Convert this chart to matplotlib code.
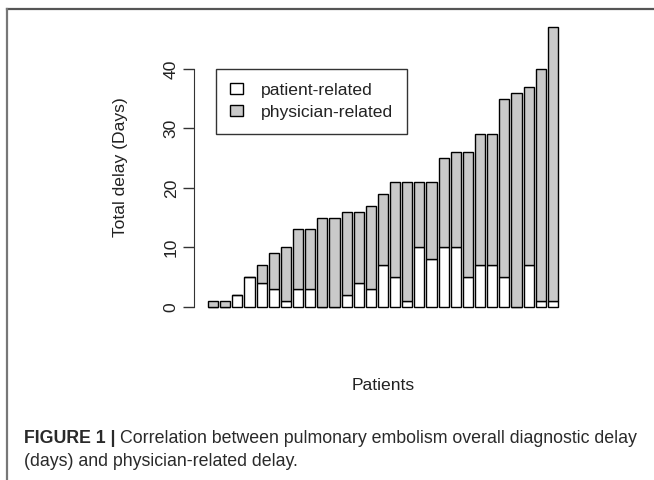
import matplotlib
matplotlib.use("Agg")
import matplotlib.pyplot as plt
from matplotlib.patches import Patch
from matplotlib.lines import Line2D
from matplotlib import font_manager


# Total delay and patient-related part for each patient (days)
total_delay = [1, 1, 2, 5, 7, 9, 10, 13, 13, 15, 15, 16, 16, 17, 19,
               21, 21, 21, 21, 25, 26, 26, 29, 29, 35, 36, 37, 40, 47]
patient_delay = [0, 0, 2, 5, 4, 3, 1, 3, 3, 0, 0, 2, 4, 3, 7,
                 5, 1, 10, 8, 10, 10, 5, 7, 7, 5, 0, 7, 1, 1]
physician_delay = [t - p for t, p in zip(total_delay, patient_delay)]
y_ticks = [0, 10, 20, 30, 40]

legend_labels = ["patient-related", "physician-related"]
y_label = "Total delay (Days)"
x_label = "Patients"
caption_bold = "FIGURE 1 | "
caption_line1 = "Correlation between pulmonary embolism overall diagnostic delay"
caption_line2 = "(days) and physician-related delay."

GRAY = "#c9c9c9"
TEXT = "#222222"
W, H = 654, 480

installed = {f.name for f in font_manager.fontManager.ttflist}
cap_font = "Liberation Sans Narrow" if "Liberation Sans Narrow" in installed else "Liberation Sans"

plt.rcParams["font.family"] = ["Liberation Sans", "DejaVu Sans"]
fig = plt.figure(figsize=(W / 100, H / 100), dpi=100)

# plot region in pixels: x 194..572, y 16..318 (from top)
ax = fig.add_axes([194 / W, 1 - 318 / H, (572 - 194) / W, (318 - 16) / H])

n = len(total_delay)
xs = [0.7 + 1.2 * i for i in range(n)]
ax.bar(xs, patient_delay, width=1.0, color="white", edgecolor="black", linewidth=1.0)
ax.bar(xs, physician_delay, width=1.0, bottom=patient_delay, color=GRAY,
       edgecolor="black", linewidth=1.0)

ax.set_xlim(-1.184, 36.184)
ax.set_ylim(-1.88, 48.88)

for s in ["top", "right", "bottom"]:
    ax.spines[s].set_visible(False)
ax.spines["left"].set_bounds(0, 40)
ax.spines["left"].set_color("#333333")
ax.set_xticks([])
ax.set_yticks(y_ticks)
ax.set_yticklabels([str(v) for v in y_ticks], rotation=90, va="center",
                   fontsize=12.6, color=TEXT)
ax.tick_params(axis="y", length=8, width=1, color="#333333", pad=3)

ax.set_ylabel(y_label, fontsize=12.6, color=TEXT)
ax.yaxis.set_label_coords((120 - 194) / 378, 0.5)
ax.yaxis.label.set_va("center")
ax.set_xlabel(x_label, fontsize=12.6, color=TEXT)
ax.xaxis.label.set_va("center")
ax.xaxis.set_label_coords(0.5, (318 - 385) / 302)

handles = [Patch(facecolor="white", edgecolor="black", linewidth=1.0),
           Patch(facecolor=GRAY, edgecolor="black", linewidth=1.0)]
leg = ax.legend(handles, legend_labels, loc="upper left",
                bbox_to_anchor=((216 - 194) / 378, 1 - (69 - 16) / 302),
                fontsize=12.6, frameon=True, fancybox=False, shadow=False,
                handlelength=0.75, handleheight=0.6, handletextpad=1.05,
                labelspacing=0.42, borderpad=0.78, borderaxespad=0.0)
leg.get_frame().set_edgecolor("black")
leg.get_frame().set_linewidth(1.0)
for t in leg.get_texts():
    t.set_color(TEXT)

# figure border (top and left only)
fig.add_artist(Line2D([7 / W, 1], [1 - 9 / H, 1 - 9 / H], transform=fig.transFigure,
                      color="#555555", linewidth=1.6))
fig.add_artist(Line2D([7 / W, 7 / W], [1 - 9 / H, 0], transform=fig.transFigure,
                      color="#777777", linewidth=1.6))

# caption, scaled to fit its measured width
cap_size = 12.0
b = fig.text(24 / W, 1 - 443 / H, caption_bold, fontsize=cap_size, fontweight="bold",
             color="#2a2a2a", family=cap_font, va="baseline")
r1 = fig.text(0, 1 - 443 / H, caption_line1, fontsize=cap_size, color="#2a2a2a",
              family=cap_font, va="baseline")
r2 = fig.text(24 / W, 1 - 466 / H, caption_line2, fontsize=cap_size, color="#2a2a2a",
              family=cap_font, va="baseline")
fig.canvas.draw()
rend = fig.canvas.get_renderer()
total_w = b.get_window_extent(rend).width + r1.get_window_extent(rend).width
scale = (641 - 24) / total_w
for t in (b, r1, r2):
    t.set_fontsize(cap_size * scale)
fig.canvas.draw()
bw = b.get_window_extent(rend).width
r1.set_x((24 + bw) / W)

fig.savefig("out.png", dpi=100)
